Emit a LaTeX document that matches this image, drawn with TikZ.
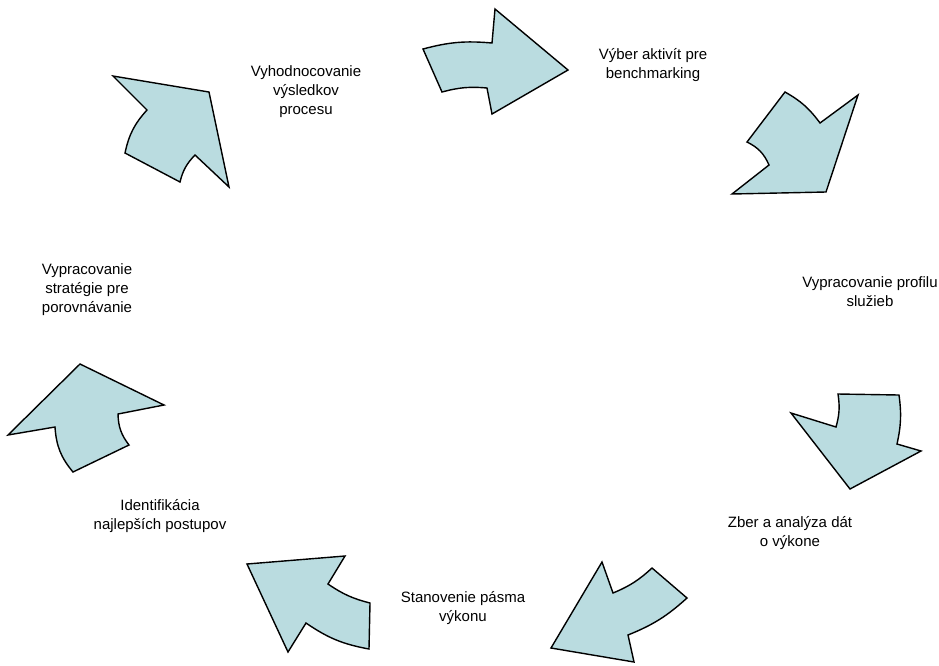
\documentclass[tikz,border=0pt]{standalone}
\usepackage{fontspec}
\setmainfont{Liberation Sans}
\usepackage{tikz}
\usetikzlibrary{positioning}
\definecolor{ArrowBlue}{RGB}{186,220,224}

\begin{document}
\begin{tikzpicture}[x=1pt, y=-1pt,
	cyc/.style={draw=black, fill=ArrowBlue, line width=1.4pt, line join=miter},
	lbl/.style={align=center, inner sep=0pt, font=\fontsize{15}{19}\selectfont}]
	
	% ------------------------------------------------
	% Page size of the reference
	\useasboundingbox (0,0) rectangle (939,665);
	
	% ------------------------------------------------
	% Curved block arrows, clockwise from the top
	\draw[cyc] (423,49) to[bend left=10] (492,43) -- (495,9) -- (568,70)
		-- (492,114) -- (487,88) to[bend right=10] (442,92) -- cycle;
	\draw[cyc] (785,92) to[bend left=12] (820,123) -- (858,95) -- (826,192)
		-- (732,194) -- (769,165) to[bend right=20] (747,142) -- cycle;
	\draw[cyc] (899,395) to[bend left=10] (897,444) -- (921,451) -- (850,489)
		-- (791,413) -- (836,427) to[bend right=12] (838,394) -- cycle;
	\draw[cyc] (602,562) -- (613,593) to[bend right=10] (652,568) -- (687,598)
		to[bend left=10] (628,635) -- (634,662) -- (551,648) -- cycle;
	\draw[cyc] (247,564) -- (345,556) -- (328,584) to[bend right=10] (370,603)
		-- (369,649) to[bend left=12] (306,623) -- (288,652) -- cycle;
	\draw[cyc] (80,364) -- (164,405) -- (118,414) to[bend right=18] (129,445)
		-- (73,472) to[bend left=18] (55,427) -- (8,435) -- cycle;
	\draw[cyc] (113,76) -- (209,92) -- (229,187) -- (195,155) to[bend right=15] (180,182)
		-- (125,153) to[bend left=15] (147,110) -- cycle;
	
	% ----------------
	% Step labels
	\node[lbl] (TxtEval)     at (306,92)    {Vyhodnocovanie\\výsledkov\\procesu};
	\node[lbl] (TxtSelect)   at (653,65.5)  {Výber aktivít pre\\benchmarking};
	\node[lbl] (TxtProfile)  at (870,292)   {Vypracovanie profilu\\služieb};
	\node[lbl] (TxtCollect)  at (790,533.5) {Zber a analýza dát\\o výkone};
	\node[lbl] (TxtBand)     at (463,608.5) {Stanovenie pásma\\výkonu};
	\node[lbl] (TxtBest)     at (160,516.5) {Identifikácia\\najlepších postupov};
	\node[lbl] (TxtStrategy) at (87,289.5)  {Vypracovanie\\stratégie pre\\porovnávanie};
	
\end{tikzpicture}
\end{document}
